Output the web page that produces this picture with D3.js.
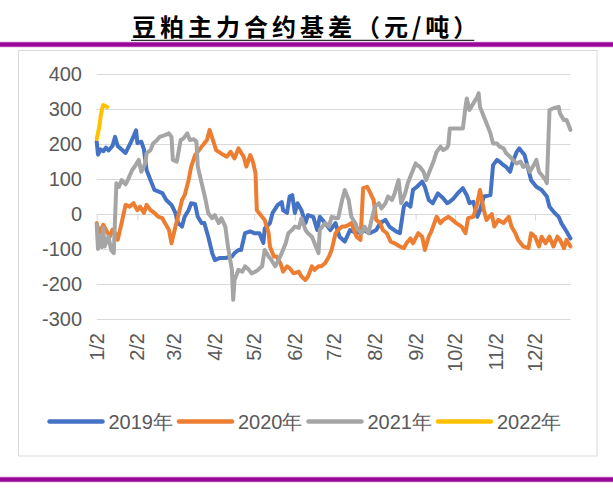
<!DOCTYPE html>
<html><head><meta charset="utf-8">
<script src="https://cdn.jsdelivr.net/npm/d3@7"></script>
<style>body{margin:0;background:#fff;} svg{display:block;}</style>
</head><body>
<svg id="c" width="613" height="491"></svg>
<script>
const titleText = "豆粕主力合约基差（元/吨）";
const seriesNames = ["2019年","2020年","2021年","2022年"];
const seriesColors = ["#4472C4","#ED7D31","#A5A5A5","#FFC000"];
const yTicks = [400,300,200,100,0,-100,-200,-300];
const xTickLabels = ["1/2","2/2","3/2","4/2","5/2","6/2","7/2","8/2","9/2","10/2","11/2","12/2"];

const dates2019 = ["1/2","1/3","1/5","1/7","1/9","1/11","1/14","1/16","1/18","1/21","1/24","1/26","1/28","2/1","2/2","2/5","2/7","2/9","2/12","2/15","2/21","2/24","2/28","3/3","3/5","3/8","3/10","3/13","3/15","3/18","3/20","3/23","3/25","3/28","3/31","4/2","4/6","4/10","4/15","4/17","4/20","4/22","4/25","4/29","5/2","5/6","5/9","5/10","5/14","5/16","5/20","5/23","5/24","5/27","5/29","5/31","6/2","6/4","6/7","6/10","6/12","6/16","6/19","6/21","6/25","6/29","7/3","7/6","7/10","7/14","7/19","7/24","7/29","8/3","8/6","8/10","8/13","8/18","8/21","8/24","8/26","8/29","8/31","9/3","9/7","9/9","9/12","9/15","9/19","9/23","9/26","9/28","10/1","10/4","10/8","10/11","10/13","10/16","10/19","10/21","10/24","10/29","10/31","11/3","11/5","11/8","11/10","11/13","11/15","11/18","11/20","11/24","11/27","11/29","12/3","12/7","12/11","12/13","12/16","12/20","12/22","12/26","12/29"];
const values2019 = [207,170,185,180,190,182,195,221,195,185,175,190,205,240,203,207,185,126,97,69,60,40,26,3,-26,-36,-8,11,31,28,-8,-26,-26,-65,-112,-132,-126,-126,-122,-112,-103,-103,-55,-50,-55,-55,-83,-42,-26,3,26,34,11,3,50,54,3,31,11,-26,-3,-8,-46,-8,-26,-46,-26,-65,-79,-46,-55,-46,-55,-46,-26,-17,-36,-50,-55,21,31,21,69,78,93,78,40,31,59,45,31,35,45,59,74,54,31,35,-8,11,50,54,140,155,150,140,135,121,150,178,188,169,126,97,78,69,50,21,7,-8,-26,-50,-70];

const dates2020 = ["1/2","1/3","1/4","1/7","1/9","1/12","1/14","1/17","1/18","1/21","1/24","1/27","1/30","2/2","2/4","2/7","2/9","2/12","2/15","2/18","2/21","2/23","2/26","2/28","3/3","3/5","3/8","3/10","3/13","3/15","3/18","3/22","3/24","3/27","3/29","4/1","4/3","4/7","4/11","4/14","4/17","4/20","4/24","4/26","4/29","5/1","5/3","5/4","5/8","5/10","5/13","5/14","5/17","5/19","5/22","5/24","5/27","5/29","6/1","6/5","6/7","6/10","6/12","6/15","6/17","6/20","6/22","6/25","6/28","6/30","7/3","7/5","7/8","7/10","7/13","7/15","7/19","7/22","7/24","7/27","7/29","8/1","8/3","8/6","8/8","8/11","8/14","8/17","8/21","8/24","8/26","8/29","8/31","9/4","9/7","9/9","9/12","9/14","9/18","9/21","9/23","9/27","9/30","10/3","10/7","10/10","10/12","10/16","10/19","10/21","10/24","10/26","10/30","11/1","11/4","11/8","11/12","11/14","11/17","11/19","11/23","11/27","11/29","12/2","12/5","12/7","12/10","12/13","12/16","12/19","12/21","12/24","12/26","12/29"];
const values2020 = [-26,-40,-55,-31,-45,-65,-45,-60,-74,-26,26,21,31,11,21,3,26,11,3,-8,-12,-26,-45,-84,-36,-8,40,54,97,136,169,188,198,212,241,207,183,173,164,178,159,188,164,136,169,150,117,11,-8,-17,-55,-93,-122,-122,-141,-165,-150,-155,-170,-165,-179,-189,-179,-150,-160,-150,-150,-141,-122,-103,-55,-46,-36,-36,-31,-26,-65,-74,74,78,64,40,-17,-26,-46,-55,-79,-84,-93,-98,-84,-70,-84,-55,-65,-103,-65,-50,-8,-26,-17,-8,-17,-26,-36,-55,-12,-8,31,69,11,-17,0,-36,-17,-26,-8,-36,-55,-74,-93,-98,-55,-65,-93,-65,-84,-65,-93,-65,-74,-98,-74,-93];

const dates2021 = ["1/2","1/3","1/4","1/6","1/7","1/8","1/11","1/13","1/15","1/17","1/19","1/21","1/24","1/26","1/29","1/31","2/3","2/5","2/8","2/9","2/12","2/14","2/17","2/19","2/23","2/26","2/28","3/1","3/4","3/7","3/9","3/12","3/14","3/17","3/19","3/20","3/23","3/26","3/28","3/31","4/2","4/5","4/7","4/10","4/12","4/15","4/16","4/17","4/20","4/23","4/25","4/28","4/30","5/3","5/5","5/8","5/10","5/13","5/15","5/18","5/20","5/23","5/26","5/28","5/31","6/2","6/5","6/7","6/10","6/12","6/15","6/17","6/20","6/21","6/25","6/28","6/30","7/3","7/5","7/8","7/10","7/13","7/15","7/18","7/20","7/23","7/25","7/28","7/31","8/2","8/5","8/7","8/10","8/12","8/15","8/17","8/20","8/22","8/25","8/27","8/30","9/2","9/3","9/5","9/8","9/10","9/13","9/16","9/18","9/21","9/23","9/26","9/27","9/28","10/3","10/8","10/10","10/11","10/13","10/16","10/19","10/20","10/21","10/24","10/26","10/29","10/31","11/3","11/5","11/8","11/10","11/13","11/15","11/18","11/21","11/23","11/26","11/28","12/1","12/3","12/5","12/7","12/10","12/11","12/12","12/13","12/16","12/20","12/21","12/24","12/26","12/29"];
const values2021 = [-30,-100,-60,-95,-40,-93,-65,-103,-112,88,78,97,85,100,126,136,155,121,145,174,183,202,212,221,226,231,221,155,150,212,216,231,212,214,207,136,88,40,2,-12,-3,-26,-12,-36,-93,-160,-246,-189,-160,-165,-150,-160,-170,-165,-160,-150,-103,-122,-131,-150,-136,-112,-84,-55,-45,-36,-40,-12,-45,-55,-65,-84,-112,-45,-26,-36,-8,-12,-12,40,69,40,-8,-26,-45,-55,-36,-55,-8,21,31,16,31,50,40,59,97,31,59,88,117,145,140,136,121,97,126,155,178,193,183,190,200,245,245,245,307,331,298,317,336,346,307,279,260,231,202,202,193,188,174,164,155,145,150,135,140,121,140,155,121,112,97,88,193,298,303,307,288,269,269,241];

const dates2022 = ["1/2","1/4","1/5","1/6","1/7","1/10"];
const values2022 = [215,250,280,300,312,307];

const svg = d3.select("#c");
const parse = d3.timeParse("%m/%d");
const F = "'Liberation Sans', Arial, sans-serif";

// frame decorations
svg.append("rect").attr("x",0).attr("y",41.5).attr("width",613).attr("height",6).attr("fill","#E9C2E9");
svg.append("rect").attr("x",0).attr("y",42.3).attr("width",613).attr("height",4.4).attr("fill","#9A0898");
svg.append("rect").attr("x",0).attr("y",476.5).attr("width",613).attr("height",6).attr("fill","#E9C2E9");
svg.append("rect").attr("x",0).attr("y",477.3).attr("width",613).attr("height",4.4).attr("fill","#9A0898");
svg.append("rect").attr("x",18.5).attr("y",50.5).attr("width",578.5).attr("height",405.5)
  .attr("fill","#fff").attr("stroke","#D9D9D9").attr("stroke-width",1);

// title
const tt = svg.append("text").attr("x",132).attr("y",36)
  .attr("font-family","'Noto Sans CJK SC', sans-serif").attr("font-weight",700)
  .attr("font-size",24).attr("letter-spacing",4).attr("fill","#000").text(titleText);
const tw = tt.node().getComputedTextLength();
svg.append("line").attr("x1",131).attr("x2",Math.min(131+tw-6, 476)).attr("y1",40.3).attr("y2",40.3)
  .attr("stroke","#000").attr("stroke-width",1);

// scales
const x = d3.scaleTime().domain([parse("1/2"), parse("12/29")]).range([96.7, 570.5]);
const y = d3.scaleLinear().domain([-300, 400]).range([318.7, 74.4]);

// gridlines
svg.append("g").selectAll("line").data(yTicks.filter(v => v !== 0)).join("line")
  .attr("x1",96.7).attr("x2",570.5).attr("y1",d=>Math.round(y(d))+0.5).attr("y2",d=>Math.round(y(d))+0.5)
  .attr("stroke","#D9D9D9").attr("stroke-width",1);

// y labels
svg.append("g").selectAll("text").data(yTicks).join("text")
  .attr("x",82).attr("y",d=>y(d)).attr("dy","0.35em").attr("text-anchor","end")
  .attr("font-family",F).attr("font-size",20).attr("fill","#595959").text(d=>d);

// x axis (at 0) with ticks
const xAxis = d3.axisBottom(x).tickValues(xTickLabels.map(parse)).tickSize(6).tickFormat("");
const ax = svg.append("g").attr("transform",`translate(0,${Math.round(y(0))+0.5})`).call(xAxis);
ax.select(".domain").attr("stroke","#D9D9D9").attr("d",`M96.7,0H570.5`);
ax.selectAll(".tick line").attr("stroke","#D9D9D9");

// x labels (rotated)
svg.append("g").selectAll("text").data(xTickLabels).join("text")
  .attr("transform",d=>`translate(${x(parse(d))},333) rotate(-90)`)
  .attr("dy","0.35em").attr("text-anchor","end")
  .attr("font-family",F).attr("font-size",20).attr("fill","#595959").text(d=>d);

// series
const allDates = [dates2019, dates2020, dates2021, dates2022];
const allValues = [values2019, values2020, values2021, values2022];
const line = d3.line().x(d=>x(d[0])).y(d=>y(d[1]));
allDates.forEach((ds,i) => {
  const pts = ds.map((d,j)=>[parse(d), allValues[i][j]]);
  svg.append("path").datum(pts).attr("d",line).attr("fill","none")
    .attr("stroke",seriesColors[i]).attr("stroke-width",4)
    .attr("stroke-linejoin","round").attr("stroke-linecap","round");
});

// legend
const lg = svg.append("g");
let cx = 0;
seriesNames.forEach((n,i) => {
  const g = lg.append("g");
  g.append("line").attr("x1",0).attr("x2",53).attr("y1",0).attr("y2",0)
    .attr("stroke",seriesColors[i]).attr("stroke-width",4.5).attr("stroke-linecap","round");
  const t = g.append("text").attr("x",59).attr("y",0).attr("dy","0.35em")
    .attr("font-family",F).attr("font-size",20).attr("fill","#595959").text(n);
  const w = 59 + t.node().getComputedTextLength();
  g.attr("transform",`translate(${cx},0)`);
  cx += w + 6;
});
const totalW = cx - 6;
lg.attr("transform",`translate(${305.5 - totalW/2},421.5)`);
</script>
</body></html>
